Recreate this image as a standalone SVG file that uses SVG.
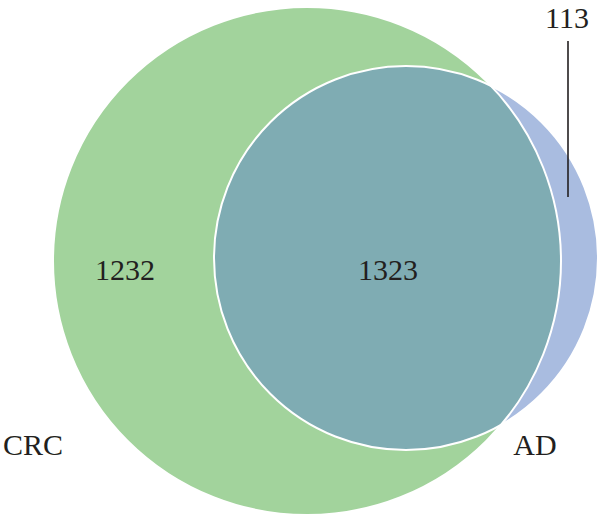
<svg xmlns="http://www.w3.org/2000/svg" width="600" height="516" viewBox="0 0 600 516">
<style>
.lbl{font-family:"Liberation Serif","Times New Roman",serif;font-size:30px;fill:#231F20;text-anchor:middle}
.edge{fill:none;stroke:#FFFFFF;stroke-width:2}
</style>
<defs>
<clipPath id="clipGreen"><circle cx="307" cy="261" r="254"/></clipPath>
</defs>
<rect width="600" height="516" fill="#FFFFFF"/>
<g id="CRC">
<circle cx="307" cy="261" r="254" fill="#A2D39C"/>
</g>
<g id="AD">
<circle cx="406" cy="258" r="192" fill="#A9BCE0"/>
</g>
<g id="overlap">
<circle cx="406" cy="258" r="192" fill="#7FACB3" clip-path="url(#clipGreen)"/>
</g>
<g id="borders">
<circle class="edge" cx="307" cy="261" r="254"/>
<circle class="edge" cx="406" cy="258" r="192"/>
</g>
<g id="connectors">
<line x1="568" y1="41" x2="568" y2="197" stroke="#231F20" stroke-width="1.6"/>
</g>
<g id="labels">
<text class="lbl" x="125" y="280">1232</text>
<text class="lbl" x="388" y="280">1323</text>
<text class="lbl" x="567" y="28">113</text>
<text class="lbl" x="33" y="455">CRC</text>
<text class="lbl" x="535" y="455">AD</text>
</g>
</svg>
